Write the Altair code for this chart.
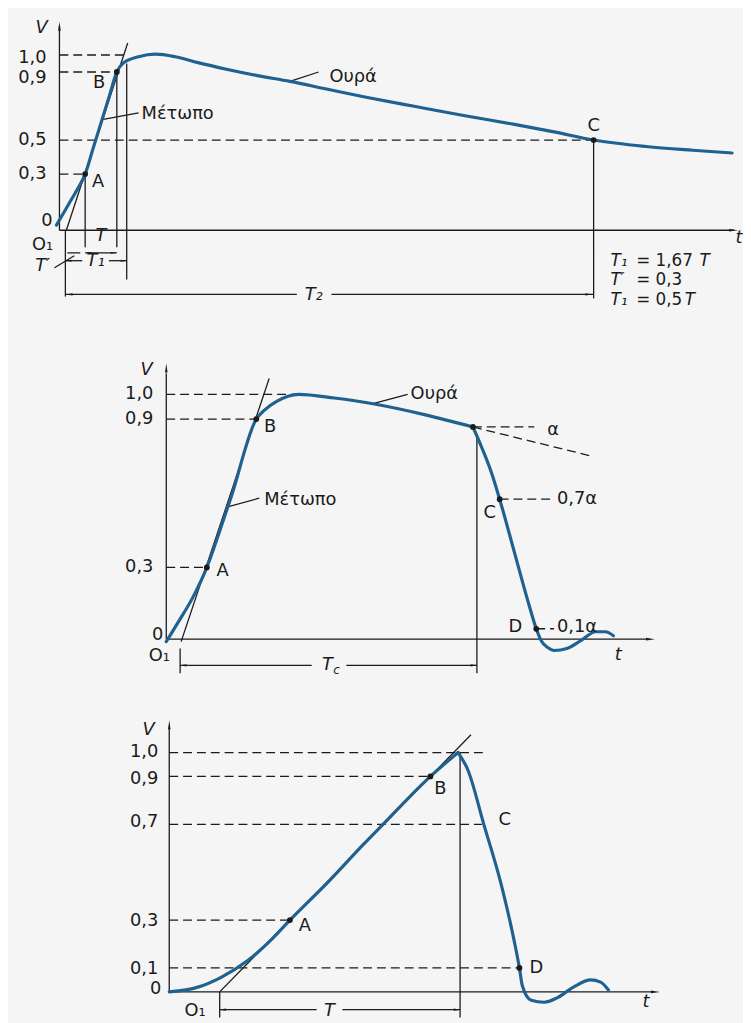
import altair as alt
import pandas as pd

BLUE = "#1f6190"
INK = "#1b1b1b"
BG = "#f5f5f5"
FONT = "DejaVu Sans"
FS = 18
W = 743

# ---------------- Panel 1 : full impulse ----------------
P1_XDOM = [-5.2, 69.1]
P1_YDOM = [-0.628, 1.244]
P1_H = 322
P1_CURVE_T = [-0.3, 0.3, 1.0, 1.8, 2.6, 3.4, 4.2, 5.0, 5.8, 6.5, 8.0, 9.7, 11.7, 14.0,
              17.0, 20.0, 23.3, 27.0, 31.0, 36.0, 41.0, 46.0, 50.0, 54.0, 59.3, 64.0, 68.0]
P1_CURVE_V = [0.0, 0.06, 0.13, 0.21, 0.30, 0.45, 0.60, 0.75, 0.90, 0.955, 0.99, 1.005, 0.99, 0.955,
              0.915, 0.879, 0.845, 0.80, 0.752, 0.697, 0.643, 0.592, 0.548, 0.50, 0.462, 0.44, 0.424]
P1_BREAKS = []
P1_SOLID = [(0, -0.03, 0, 1.17), (0, -0.03, 68.2, -0.03), (0.7, -0.03, 6.9, 1.07),
            (0.6, -0.03, 0.6, -0.42), (2.6, 0.30, 2.6, -0.13), (5.8, 0.90, 5.8, -0.13),
            (6.8, 0.95, 6.8, -0.32), (54, 0.50, 54, -0.43),
            (2.6, -0.163, 5.8, -0.163), (0.6, -0.209, 2.3, -0.209), (5.0, -0.209, 6.8, -0.209),
            (0.8, -0.163, 2.1, -0.163), (-0.5, -0.25, 1.5, -0.18),
            (0.6, -0.407, 24.0, -0.407), (27.5, -0.407, 54, -0.407),
            (4.3, 0.62, 8.0, 0.66), (23.3, 0.845, 26.2, 0.90)]
P1_DASHED = [(0, 1.0, 7.0, 1.0), (0, 0.9, 5.8, 0.9), (0, 0.5, 54, 0.5), (0, 0.3, 2.6, 0.3)]
P1_HEADS = [(0, 1.16, 0, 110), (68.0, -0.03, 90, 110),
            (3.0, -0.163, 270, 60), (5.4, -0.163, 90, 60),
            (1.0, -0.209, 270, 60), (6.4, -0.209, 90, 60),
            (1.1, -0.407, 270, 70), (53.4, -0.407, 90, 70)]
P1_DOTS = [(2.6, 0.30), (5.8, 0.90), (54, 0.50)]
P1_TEXT = [("1,0", -1.3, 0.98, "r"), ("0,9", -1.3, 0.866, "r"), ("0,5", -1.3, 0.5, "r"),
           ("0,3", -1.3, 0.3, "r"), ("0", -0.7, 0.023, "r"),
           ("A", 3.9, 0.256, "c"), ("B", 4.0, 0.837, "c"), ("C", 54, 0.58, "c"),
           ("O₁", -1.7, -0.118, "c"),
           ("Μέτωπο", 8.3, 0.651, "l"), ("Ουρά", 27.3, 0.872, "l"),
           ("= 1,67", 58.3, -0.209, "ls"), ("= 0,3", 58.3, -0.324, "ls"), ("= 0,5", 58.3, -0.438, "ls"),
           ("V", -1.8, 1.157, "ic"), ("t", 68.7, -0.076, "ic"), ("T", 4.2, -0.064, "ic"),
           ("T₁", 3.65, -0.209, "ic"), ("T₂", 25.7, -0.413, "ic"), ("T′", -1.7, -0.238, "ic"),
           ("T₁", 55.7, -0.209, "ils"), ("T", 64.7, -0.209, "ils"), ("T′", 55.7, -0.324, "ils"),
           ("T₁", 55.7, -0.438, "ils"), ("T", 63.2, -0.438, "ils")]

# ---------------- Panel 2 : chopped on the tail ----------------
P2_XDOM = [-16.0, 58.3]
P2_YDOM = [-0.188, 1.252]
P2_H = 360
P2_CURVE_T = [0.0, 1.3, 2.7, 4.1, 5.3, 6.6, 9.1, 9.9, 11.2, 12.3, 13.4, 17.0, 20.9, 26.2, 31.0,
              31.9, 32.9, 33.7, 35.2, 36.7, 37.4, 37.9, 38.6, 39.2, 40.5, 41.9, 43.4, 44.4, 45.2]
P2_CURVE_V = [0.0, 0.085, 0.18, 0.30, 0.435, 0.59, 0.90, 0.935, 0.972, 0.992, 1.0, 0.985, 0.962, 0.917, 0.868,
              0.784, 0.68, 0.576, 0.36, 0.144, 0.052, 0.004, -0.025, -0.036, -0.028, 0.004, 0.04, 0.04, 0.024]
P2_BREAKS = [31.0]
P2_SOLID = [(0, 0.01, 0, 1.085), (0, 0.01, 48.6, 0.01), (1.5, 0.0, 10.4, 1.064),
            (1.4, -0.028, 1.4, -0.128), (31.4, 0.83, 31.4, -0.128),
            (1.4, -0.096, 14.7, -0.096), (18.2, -0.096, 31.4, -0.096),
            (6.2, 0.545, 9.4, 0.58), (20.9, 0.962, 24.4, 1.0)]
P2_DASHED = [(0, 1.0, 13.4, 1.0), (0, 0.9, 9.1, 0.9), (0, 0.3, 4.1, 0.3),
             (31.0, 0.868, 37.2, 0.868), (31.0, 0.868, 43.2, 0.748),
             (33.7, 0.576, 39.2, 0.576), (37.4, 0.052, 39.2, 0.052)]
P2_HEADS = [(0, 1.10, 0, 110), (48.8, 0.01, 90, 110),
            (1.8, -0.096, 270, 70), (31.0, -0.096, 90, 70)]
P2_DOTS = [(4.1, 0.3), (9.1, 0.9), (31.0, 0.868), (33.7, 0.576), (37.4, 0.052)]
P2_TEXT = [("1,0", -1.3, 1.0, "r"), ("0,9", -1.3, 0.9, "r"), ("0,3", -1.3, 0.3, "r"),
           ("0", -0.3, 0.028, "r"),
           ("A", 5.7, 0.284, "c"), ("B", 10.5, 0.868, "c"), ("C", 32.7, 0.52, "c"),
           ("D", 35.3, 0.06, "c"), ("O₁", -0.7, -0.06, "c"),
           ("Μέτωπο", 9.9, 0.572, "l"), ("Ουρά", 24.7, 1.0, "l"), ("α", 38.5, 0.856, "l"),
           ("0,7α", 39.5, 0.576, "l"), ("0,1α", 39.5, 0.06, "l"),
           ("V", -2.0, 1.1, "ic"), ("t", 45.7, -0.056, "ic"), ("T", 16.3, -0.096, "ic"),
           ("c", 17.2, -0.116, "sub")]

# ---------------- Panel 3 : chopped on the front ----------------
P3_XDOM = [-16.3, 58.0]
P3_YDOM = [-0.107, 1.269]
P3_H = 333
P3_CURVE_T = [0.0, 2.9, 5.2, 7.9, 10.4, 12.2, 16.2, 19.6, 22.2, 24.3, 26.4, 29.2, 30.2, 31.8,
              33.6, 34.9, 35.4, 35.7, 36.6, 37.9, 39.2, 40.9, 42.6, 43.6, 44.4]
P3_CURVE_V = [0.0, 0.02, 0.06, 0.13, 0.222, 0.30, 0.465, 0.615, 0.725, 0.815, 0.90, 1.0, 0.926, 0.70,
              0.442, 0.207, 0.10, 0.025, -0.035, -0.043, -0.025, 0.021, 0.05, 0.041, 0.008]
P3_BREAKS = [29.2]
P3_SOLID = [(0, 0.0, 0, 1.10), (0, 0.0, 48.8, 0.0), (5.1, 0.0, 30.5, 1.074),
            (29.4, 1.0, 29.4, -0.11), (5.1, 0.0, 5.1, -0.11),
            (5.1, -0.074, 14.9, -0.074), (17.5, -0.074, 29.4, -0.074)]
P3_DASHED = [(0, 1.0, 31.9, 1.0), (0, 0.9, 26.4, 0.9), (0, 0.7, 31.6, 0.7),
             (0, 0.3, 12.2, 0.3), (0, 0.1, 35.4, 0.1)]
P3_HEADS = [(0, 1.11, 0, 110), (49.0, 0.0, 90, 110),
            (5.5, -0.074, 270, 70), (29.0, -0.074, 90, 70)]
P3_DOTS = [(12.2, 0.3), (26.4, 0.9), (35.4, 0.1)]
P3_TEXT = [("1,0", -1.1, 1.0, "r"), ("0,9", -1.1, 0.89, "r"), ("0,7", -1.1, 0.71, "r"),
           ("0,3", -1.1, 0.294, "r"), ("0,1", -1.1, 0.094, "r"), ("0", -0.8, 0.01, "r"),
           ("A", 13.7, 0.277, "c"), ("B", 27.4, 0.847, "c"), ("C", 33.9, 0.719, "c"),
           ("D", 37.1, 0.099, "c"), ("O₁", 2.6, -0.082, "c"),
           ("V", -2.1, 1.095, "ic"), ("t", 48.2, -0.041, "ic"), ("T", 16.2, -0.08, "ic")]

STYLES = {
    "r": dict(align="right", fontStyle="normal", fontSize=FS),
    "c": dict(align="center", fontStyle="normal", fontSize=FS),
    "l": dict(align="left", fontStyle="normal", fontSize=FS),
    "ls": dict(align="left", fontStyle="normal", fontSize=17),
    "ic": dict(align="center", fontStyle="italic", fontSize=FS),
    "il": dict(align="left", fontStyle="italic", fontSize=FS),
    "ils": dict(align="left", fontStyle="italic", fontSize=17),
    "sub": dict(align="center", fontStyle="italic", fontSize=12),
}


def curve_frame(ts, vs, breaks):
    """Split the waveform at sharp corners (the corner point belongs to both parts)."""
    rows = []
    part = 0
    for t, v in zip(ts, vs):
        rows.append((t, v, part))
        if t in breaks:
            part += 1
            rows.append((t, v, part))
    return pd.DataFrame(rows, columns=["t", "V", "part"])


def panel(xdom, ydom, h, ct, cv, breaks, solid, dashed, heads, dots, texts):
    def X():
        return alt.X("t:Q", scale=alt.Scale(domain=xdom, nice=False, zero=False), axis=None)

    def Y():
        return alt.Y("V:Q", scale=alt.Scale(domain=ydom, nice=False, zero=False), axis=None)

    cols = ["t", "V", "t2", "V2"]
    layers = [
        alt.Chart(pd.DataFrame(solid, columns=cols)).mark_rule(
            color=INK, strokeWidth=1.3, clip=True).encode(x=X(), y=Y(), x2="t2:Q", y2="V2:Q"),
        alt.Chart(pd.DataFrame(dashed, columns=cols)).mark_rule(
            color=INK, strokeWidth=1.3, strokeDash=[9, 5], clip=True).encode(
            x=X(), y=Y(), x2="t2:Q", y2="V2:Q"),
        alt.Chart(curve_frame(ct, cv, breaks)).mark_line(
            color=BLUE, strokeWidth=3.2, interpolate="monotone", clip=True,
            strokeJoin="miter", strokeCap="round").encode(
            x=X(), y=Y(), detail="part:N"),
        alt.Chart(pd.DataFrame(heads, columns=["t", "V", "angle", "size"])).mark_point(
            shape="wedge", filled=True, color=INK, opacity=1, clip=True).encode(
            x=X(), y=Y(), angle=alt.Angle("angle:Q", scale=None),
            size=alt.Size("size:Q", scale=None)),
        alt.Chart(pd.DataFrame(dots, columns=["t", "V"])).mark_circle(
            size=34, color=INK, opacity=1).encode(x=X(), y=Y()),
    ]
    tdf = pd.DataFrame(texts, columns=["label", "t", "V", "kind"])
    for kind, st in STYLES.items():
        sub = tdf[tdf["kind"] == kind]
        if len(sub) == 0:
            continue
        layers.append(
            alt.Chart(sub).mark_text(font=FONT, color=INK, baseline="middle", clip=True, **st).encode(
                x=X(), y=Y(), text="label:N"))
    return alt.layer(*layers).properties(width=W, height=h)


p1 = panel(P1_XDOM, P1_YDOM, P1_H, P1_CURVE_T, P1_CURVE_V, P1_BREAKS,
           P1_SOLID, P1_DASHED, P1_HEADS, P1_DOTS, P1_TEXT)
p2 = panel(P2_XDOM, P2_YDOM, P2_H, P2_CURVE_T, P2_CURVE_V, P2_BREAKS,
           P2_SOLID, P2_DASHED, P2_HEADS, P2_DOTS, P2_TEXT)
p3 = panel(P3_XDOM, P3_YDOM, P3_H, P3_CURVE_T, P3_CURVE_V, P3_BREAKS,
           P3_SOLID, P3_DASHED, P3_HEADS, P3_DOTS, P3_TEXT)

chart = alt.vconcat(p1, p2, p3, spacing=0, bounds="flush").properties(
    padding=0, background=BG).configure_view(strokeWidth=0)

chart.save("out.html", embed_options={"renderer": "svg", "actions": False})
